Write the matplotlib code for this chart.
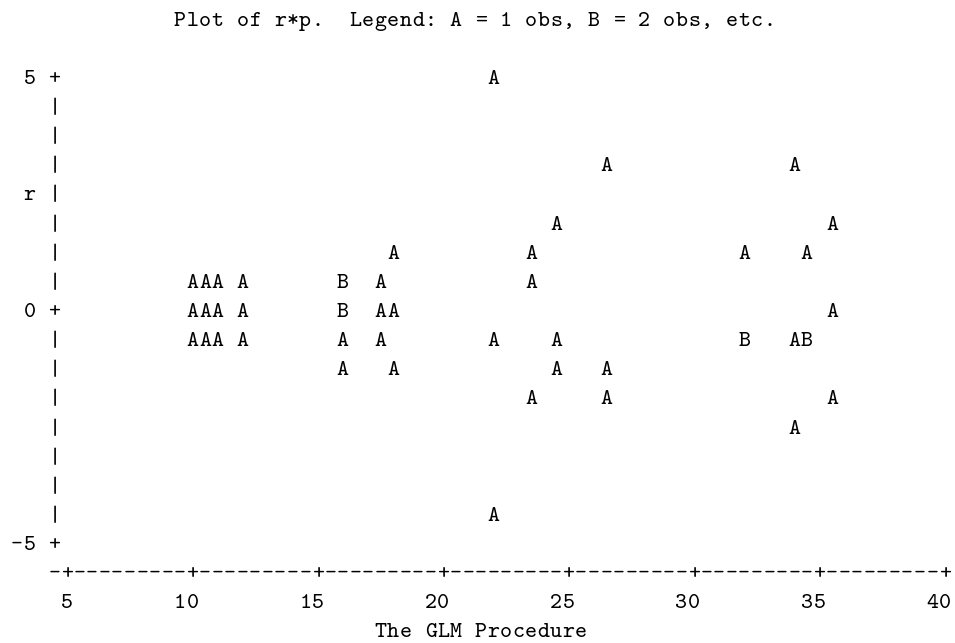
import matplotlib
matplotlib.use("Agg")
import matplotlib.pyplot as plt

# ---- data: plotted cells of the SAS line-printer plot (p, r, number of obs) ----
p_vals = [22.0,
          26.5, 34.0,
          24.5, 35.5,
          18.0, 23.5, 32.0, 34.5,
          10.0, 10.5, 11.0, 12.0, 16.0, 17.5, 23.5,
          10.0, 10.5, 11.0, 12.0, 16.0, 17.5, 18.0, 35.5,
          10.0, 10.5, 11.0, 12.0, 16.0, 17.5, 22.0, 24.5, 32.0, 34.0, 34.5,
          16.0, 18.0, 24.5, 26.5,
          23.5, 26.5, 35.5,
          34.0,
          22.0]
r_vals = [5.0,
          3.125, 3.125,
          1.875, 1.875,
          1.25, 1.25, 1.25, 1.25,
          0.625, 0.625, 0.625, 0.625, 0.625, 0.625, 0.625,
          0.0, 0.0, 0.0, 0.0, 0.0, 0.0, 0.0, 0.0,
          -0.625, -0.625, -0.625, -0.625, -0.625, -0.625, -0.625, -0.625, -0.625, -0.625, -0.625,
          -1.25, -1.25, -1.25, -1.25,
          -1.875, -1.875, -1.875,
          -2.5,
          -4.375]
n_obs = [1,
         1, 1,
         1, 1,
         1, 1, 1, 1,
         1, 1, 1, 1, 2, 1, 1,
         1, 1, 1, 1, 2, 1, 1, 1,
         1, 1, 1, 1, 1, 1, 1, 1, 2, 1, 2,
         1, 1, 1, 1,
         1, 1, 1,
         1,
         1]

x_ticks = [5, 10, 15, 20, 25, 30, 35, 40]
y_ticks = [5, 0, -5]
title = "Plot of r*p.  Legend: A = 1 obs, B = 2 obs, etc."
footer = "The GLM Procedure"
y_label = "r"

# ---- character grid geometry ----
W, H, DPI = 955, 643, 100
x0_px, col_px = 67.0, 12.54          # pixel of p=5, width of one character column
y0_px, row_px = 310.0, 29.125        # pixel of r=0, height of one printed line
dx_col = 0.5                          # p units per column
dy_row = 0.625                        # r units per line
px_per_x = col_px / dx_col
px_per_y = row_px / dy_row

fig = plt.figure(figsize=(W / DPI, H / DPI), dpi=DPI)
ax = fig.add_axes([0, 0, 1, 1])
ax.set_xlim(5 - x0_px / px_per_x, 5 + (W - x0_px) / px_per_x)
ax.set_ylim(0 - (H - y0_px) / px_per_y, 0 + y0_px / px_per_y)
ax.axis("off")

FONT = dict(family="cmtt10", fontsize=16.5, color="black",
            ha="center", va="center_baseline")


def put(col, row, s):
    """Place string s starting at character column col on printed line row."""
    for i, ch in enumerate(s):
        if ch == " ":
            continue
        ax.text(5 + (col + i) * dx_col, 5 - row * dy_row, ch, **FONT)


# title
put(9, -2, title)

# vertical axis
n_rows = int(round((y_ticks[0] - y_ticks[-1]) / dy_row))
for k in range(n_rows + 1):
    r = y_ticks[0] - k * dy_row
    put(-1, k, "+" if any(abs(r - t) < 1e-9 for t in y_ticks) else "|")
for t in y_ticks:
    lab = str(t)
    put(-2 - len(lab), (y_ticks[0] - t) / dy_row, lab)
put(-3, 4, y_label)

# horizontal axis
axis_row = n_rows + 1
n_cols = int(round((x_ticks[-1] - x_ticks[0]) / dx_col))
axis_str = "-" + "".join("+" if (x_ticks[0] + c * dx_col) in x_ticks else "-"
                         for c in range(n_cols + 1))
put(-1, axis_row, axis_str)
for t in x_ticks:
    lab = str(t)
    c = (t - x_ticks[0]) / dx_col
    put(c - len(lab) + 1, axis_row + 1, lab)
put(25, axis_row + 2, footer)

# plotted points
for p, r, n in zip(p_vals, r_vals, n_obs):
    ax.text(p, r, chr(ord("A") + n - 1), **FONT)

fig.savefig("out.png", dpi=DPI, facecolor="white")
